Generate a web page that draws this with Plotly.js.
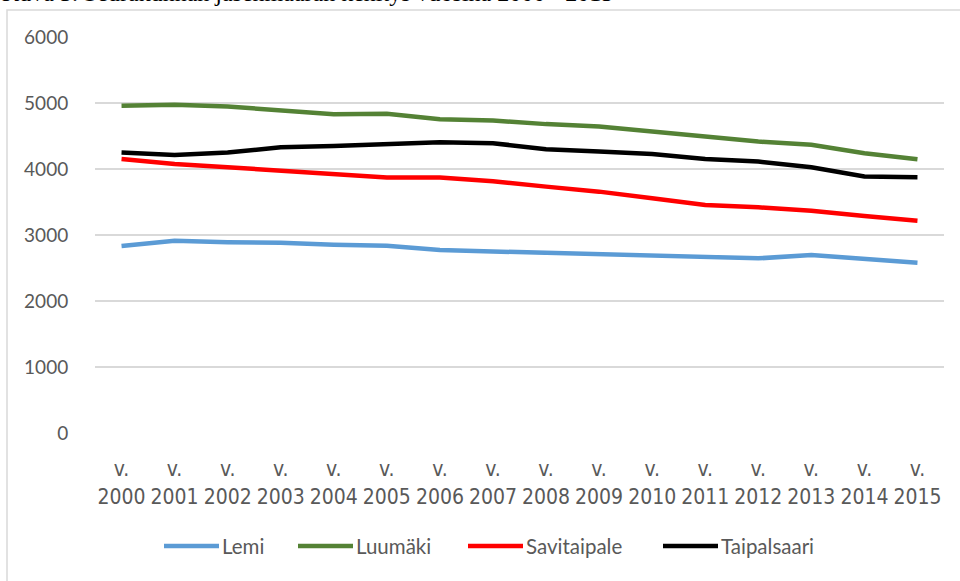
<!DOCTYPE html>
<html>
<head>
<meta charset="utf-8">
<script src="https://cdn.plot.ly/plotly-3.0.1.min.js"></script>
<style>html,body{margin:0;padding:0;background:#fff;overflow:hidden}</style>
</head>
<body>
<div id="chart" style="width:960px;height:581px"></div>
<script>
// ---- data ----
const years = ['2000','2001','2002','2003','2004','2005','2006','2007','2008','2009','2010','2011','2012','2013','2014','2015'];
const tickLabels = years.map(y => 'v.<br>' + y);
const seriesNames = ['Lemi', 'Luumäki', 'Savitaipale', 'Taipalsaari'];
const lemi        = [2833, 2912, 2889, 2882, 2852, 2837, 2772, 2752, 2737, 2707, 2692, 2671, 2646, 2697, 2631, 2580];
const luumaki     = [4957, 4973, 4947, 4897, 4831, 4836, 4755, 4735, 4680, 4644, 4568, 4492, 4416, 4366, 4240, 4149];
const savitaipale = [4153, 4077, 4027, 3971, 3910, 3870, 3870, 3814, 3733, 3657, 3556, 3455, 3420, 3369, 3288, 3217];
const taipalsaari = [4249, 4214, 4249, 4330, 4350, 4376, 4407, 4391, 4300, 4265, 4229, 4153, 4113, 4027, 3885, 3875];
const titleText = 'Kuva 3. Seurakunnan jäsenmäärän kehitys vuosina 2000 - 2015';

// ---- styles ----
const colors = ['#5B9BD5', '#548235', '#FF0000', '#000000'];
const values = [lemi, luumaki, savitaipale, taipalsaari];

const traces = values.map((v, i) => ({
  type: 'scatter', mode: 'lines', x: years, y: v, name: seriesNames[i],
  line: {color: colors[i], width: 4.5}, showlegend: false, hoverinfo: 'x+y+name'
}));

// plot area in pixels (for paper conversions of decorations)
const L = 95, R = 944, T = 37, B = 433;
const px2x = p => (p - L) / (R - L);
const py2y = p => (B - p) / (B - T);

// custom legend (Excel-like long line keys)
const legendLineStart = [164, 298, 468, 663];
const legendLineLen = 55;
const legendY = 546;
const shapes = [];
const annotations = [];
seriesNames.forEach((n, i) => {
  shapes.push({type: 'line', xref: 'paper', yref: 'paper',
    x0: px2x(legendLineStart[i]), x1: px2x(legendLineStart[i] + legendLineLen),
    y0: py2y(legendY), y1: py2y(legendY),
    line: {color: colors[i], width: 4.5}});
  annotations.push({xref: 'paper', yref: 'paper', x: px2x(legendLineStart[i] + legendLineLen + 1),
    y: py2y(legendY), xanchor: 'left', yanchor: 'middle', showarrow: false, text: n,
    font: {family: 'Lato, "Open Sans", sans-serif', size: 20.5, color: '#595959'}});
});
// chart border
shapes.push({type: 'rect', xref: 'paper', yref: 'paper', layer: 'below',
  x0: px2x(7), x1: px2x(965), y0: py2y(600), y1: py2y(10),
  line: {color: '#d9d9d9', width: 1.5}, fillcolor: 'rgba(0,0,0,0)'});
// caption above the chart, clipped by the top edge as in the reference
annotations.push({xref: 'paper', yref: 'paper', x: px2x(0), y: py2y(7.5), xanchor: 'left', yanchor: 'bottom',
  showarrow: false, text: titleText,
  font: {family: '"Liberation Serif", "DejaVu Serif", serif', size: 24, color: '#000'}});

const layout = {
  width: 960, height: 581,
  margin: {l: L, r: 960 - R, t: T, b: 581 - B, pad: 0},
  paper_bgcolor: '#fff', plot_bgcolor: '#fff',
  xaxis: {
    type: 'category', tickmode: 'array', tickvals: years, ticktext: tickLabels,
    showgrid: false, zeroline: false, showline: false,
    ticks: 'outside', ticklen: 17, tickcolor: 'rgba(0,0,0,0)',
    tickfont: {family: '"Liberation Sans Narrow", "DejaVu Sans Condensed", Lato, sans-serif', size: 21, color: '#595959'},
    range: [-0.5, 15.5], fixedrange: true
  },
  yaxis: {
    range: [0, 6000], tickmode: 'array', tickvals: [0, 1000, 2000, 3000, 4000, 5000, 6000],
    showgrid: true, gridcolor: '#d9d9d9', gridwidth: 1.3, zeroline: false, showline: false,
    ticks: 'outside', ticklen: 22, tickcolor: 'rgba(0,0,0,0)',
    tickfont: {family: 'Lato, "Open Sans", sans-serif', size: 19, color: '#595959'},
    fixedrange: true
  },
  shapes: shapes,
  annotations: annotations,
  showlegend: false
};

Plotly.newPlot('chart', traces, layout, {displayModeBar: false, staticPlot: true});
</script>
</body>
</html>
